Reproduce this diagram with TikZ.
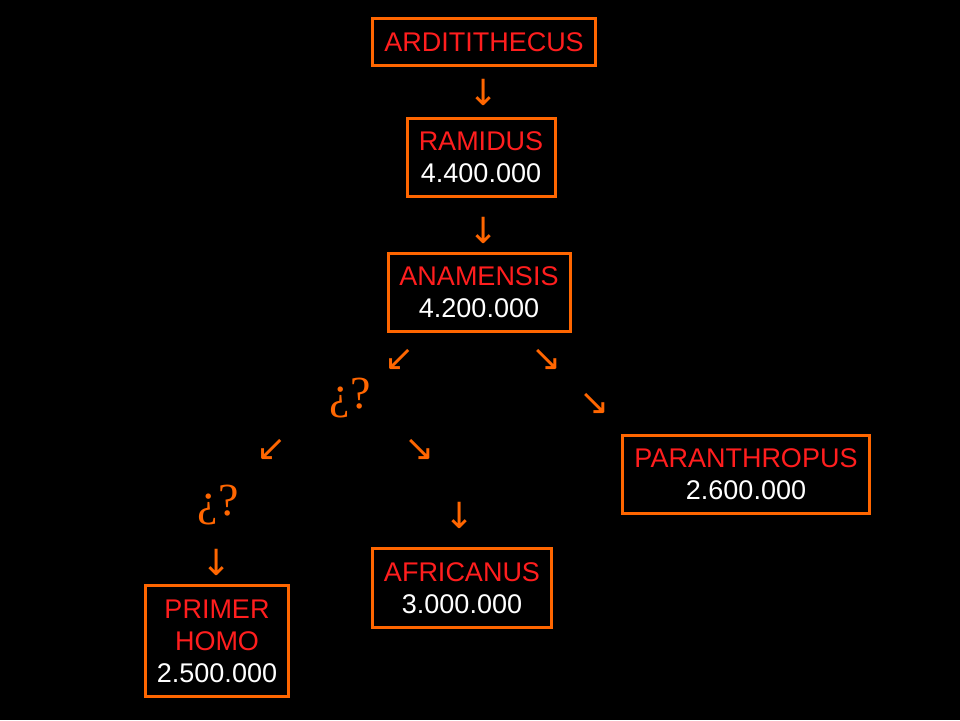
\documentclass[tikz,border=0pt]{standalone}
\usepackage{fontspec}
\setmainfont{Liberation Sans}
\newfontfamily\arrowfont{DejaVu Sans}
\newfontfamily\qfont{Liberation Serif}
\usetikzlibrary{positioning}
\definecolor{boxorange}{RGB}{255,102,0}
\definecolor{namered}{RGB}{255,30,30}

\begin{document}
\begin{tikzpicture}[
    x=1pt, y=-1pt,
    % STYLES
    species/.style={draw=boxorange, line width=3pt, inner sep=0pt, align=center,
        font=\fontsize{27}{32}\selectfont, text=white},
    arrowglyph/.style={text=boxorange, font=\arrowfont\fontsize{36}{36}\selectfont, inner sep=0pt},
    question/.style={text=boxorange, font=\qfont\fontsize{46}{46}\selectfont, inner sep=0pt}
]
    \fill[black] (0,0) rectangle (960,720);
    \useasboundingbox (0,0) rectangle (960,720);

    % boxes
    \node[species, minimum width=223, minimum height=47] (ardi) at (484,42) {\textcolor{namered}{ARDITITHECUS}};
    \node[species, minimum width=148, minimum height=78] (ramidus) at (481,157) {\textcolor{namered}{RAMIDUS}\\4.400.000};
    \node[species, minimum width=182, minimum height=78] (anamensis) at (479,292) {\textcolor{namered}{ANAMENSIS}\\4.200.000};
    \node[species, minimum width=247, minimum height=78] (paran) at (746,474) {\textcolor{namered}{PARANTHROPUS}\\2.600.000};
    \node[species, minimum width=179, minimum height=79] (africanus) at (462,588) {\textcolor{namered}{AFRICANUS}\\3.000.000};
    \node[species, minimum width=143, minimum height=111] (homo) at (217,641) {\textcolor{namered}{PRIMER}\\\textcolor{namered}{HOMO}\\2.500.000};

    % arrows and question marks
    \foreach \nm/\x/\y/\g in {a1/484/92/↓, a2/484/230/↓, a3/400/360/↙, a4/547/360/↘,
                              a5/595/404/↘, a6/272/450/↙, a7/420/450/↘, a8/460/515/↓, a9/217/562/↓} {
        \node[arrowglyph] (\nm) at (\x,\y) {\g};
    }
    \node[question] (q1) at (350,398) {¿?};
    \node[question] (q2) at (218,505) {¿?};

\end{tikzpicture}
\end{document}
